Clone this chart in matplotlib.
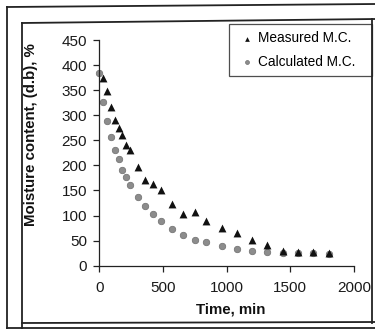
import matplotlib
matplotlib.use("Agg")
import matplotlib.pyplot as plt
from matplotlib.lines import Line2D

# Data
time_meas = [30, 60, 90, 120, 150, 180, 210, 240, 300, 360, 420, 480, 570, 660,
             750, 840, 960, 1080, 1200, 1320, 1440, 1560, 1680, 1800]
mc_meas = [375, 349, 316, 290, 274, 261, 241, 231, 197, 171, 163, 151, 124, 104,
           108, 90, 76, 66, 51, 41, 30, 28, 27, 25]
time_calc = [0, 30, 60, 90, 120, 150, 180, 210, 240, 300, 360, 420, 480, 570, 660,
             750, 840, 960, 1080, 1200, 1320, 1440, 1560, 1680, 1800]
mc_calc = [384, 327, 289, 256, 231, 212, 191, 176, 161, 136, 119, 103, 90, 74, 61,
           51, 47, 40, 33, 30, 28, 26, 25, 25, 23]
x_ticks = [0, 500, 1000, 1500, 2000]
y_ticks = [0, 50, 100, 150, 200, 250, 300, 350, 400, 450]

plt.rcParams['font.family'] = ['Liberation Sans', 'DejaVu Sans']

W, H = 375, 329
fig = plt.figure(figsize=(W / 100, H / 100), dpi=100)
fig.patch.set_facecolor('white')

def fx(x):
    return x / W

def fy(y):
    return 1 - y / H

ax = fig.add_axes([fx(99.5), fy(265.7), fx(354) - fx(99.5), fy(40) - fy(265.7)])
ax.set_xlim(0, 2000)
ax.set_ylim(0, 450)
ax.spines['top'].set_visible(False)
ax.spines['right'].set_visible(False)
for s in ['left', 'bottom']:
    ax.spines[s].set_linewidth(0.9)
    ax.spines[s].set_color('#222222')
ax.set_xticks(x_ticks)
ax.set_yticks(y_ticks)
ax.tick_params(axis='both', direction='out', length=4, width=0.9, colors='#222222',
               labelsize=11, labelcolor='#1a1a1a')
ax.tick_params(axis='x', pad=7)
ax.tick_params(axis='y', pad=5)

ax.scatter(time_meas, mc_meas, marker='^', s=32, color='#111111', linewidths=0,
           label='Measured M.C.', zorder=3, clip_on=False)
ax.scatter(time_calc, mc_calc, marker='o', s=22, facecolor='#8c8c8c',
           edgecolor='#6e6e6e', linewidths=0.5, label='Calculated M.C.', zorder=2,
           clip_on=False)

ax.set_xlabel('Time, min', fontsize=10.8, fontweight='bold', color='#111111')
ax.xaxis.set_label_coords(0.515, -0.165)
ax.set_ylabel('Moisture content, (d.b), %', fontsize=10.8, fontweight='bold',
              color='#111111')
ax.yaxis.set_label_coords(-0.24, 0.583)

leg = ax.legend(loc='upper left',
                bbox_to_anchor=(fx(229), fy(75), fx(371.5) - fx(229), fy(24) - fy(75)),
                bbox_transform=fig.transFigure, mode='expand', borderaxespad=0,
                fancybox=False, frameon=True, fontsize=9.8, markerscale=0.6,
                handletextpad=0.05, borderpad=0.55, labelspacing=0.7,
                handlelength=1.5)
leg.get_frame().set_edgecolor('#222222')
leg.get_frame().set_linewidth(0.9)

# Scanned page frames
frame_kw = dict(color='#222222', linewidth=1.3, transform=fig.transFigure)
# outer frame
fig.add_artist(Line2D([fx(7), fx(7)], [fy(7), fy(329)], **frame_kw))
fig.add_artist(Line2D([fx(7), fx(375)], [fy(7), fy(4)], **frame_kw))
fig.add_artist(Line2D([fx(7), fx(375)], [fy(327.5), fy(327.5)], **frame_kw))
# inner frame
fig.add_artist(Line2D([fx(22), fx(22)], [fy(23), fy(329)], **frame_kw))
fig.add_artist(Line2D([fx(22), fx(375)], [fy(23), fy(19)], **frame_kw))
fig.add_artist(Line2D([fx(372), fx(372)], [fy(19), fy(323)], **frame_kw))
fig.add_artist(Line2D([fx(22), fx(375)], [fy(323), fy(322)], **frame_kw))

fig.savefig('out.png', dpi=100, facecolor='white')
